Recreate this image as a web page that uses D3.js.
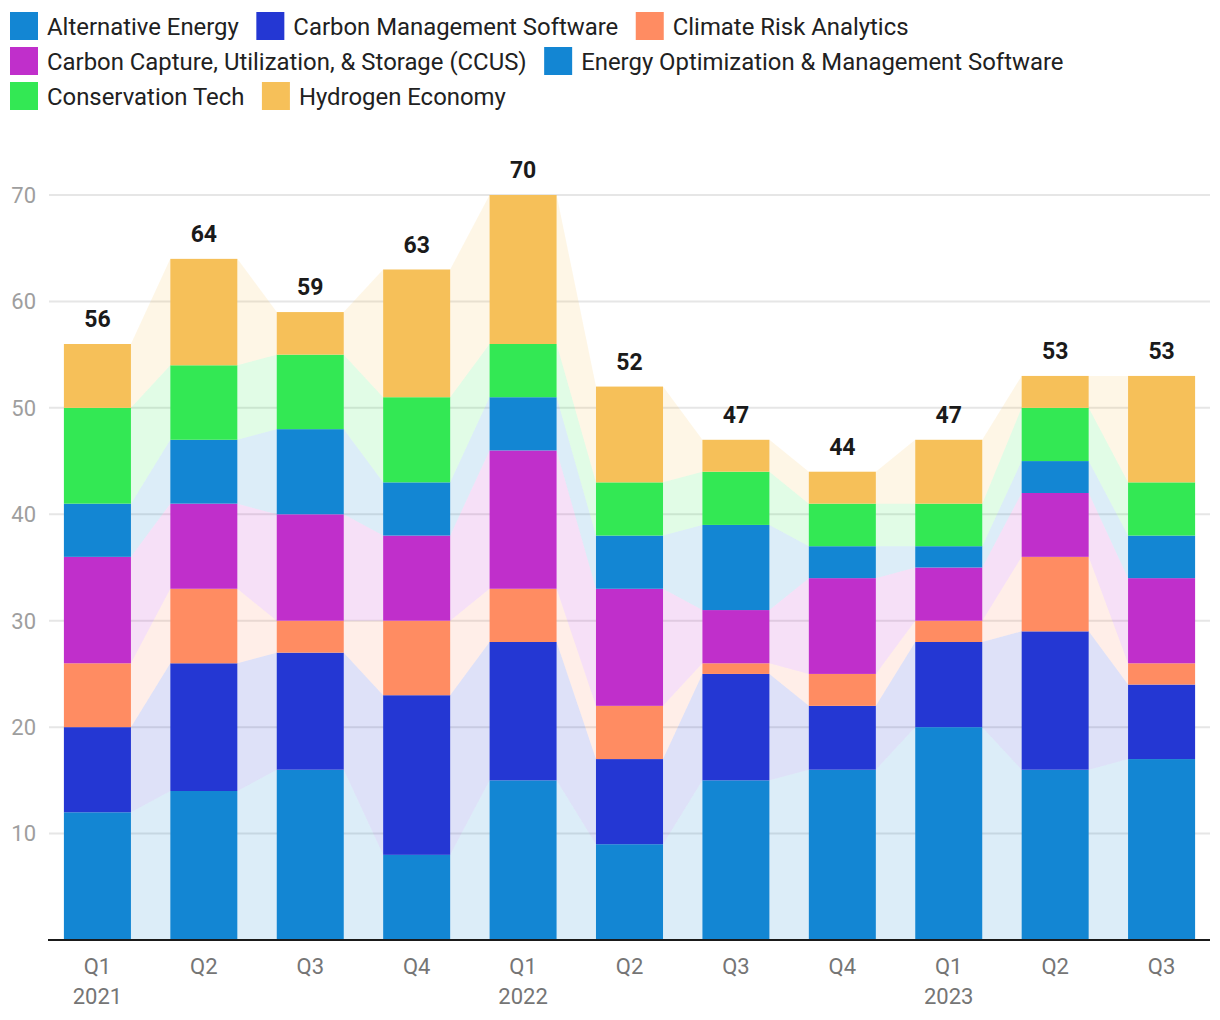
<!DOCTYPE html>
<html><head><meta charset="utf-8">
<script src="https://cdn.jsdelivr.net/npm/d3@7"></script>
<style>body{margin:0;background:#fff;} svg{display:block;font-family:Roboto,"Noto Sans",sans-serif;}</style>
</head><body><svg id="c" width="1220" height="1020"></svg>
<script>
const quarters = ["Q1","Q2","Q3","Q4","Q1","Q2","Q3","Q4","Q1","Q2","Q3"];
const years = ["2021","","","","2022","","","","2023","",""];
const seriesNames = ["Alternative Energy","Carbon Management Software","Climate Risk Analytics","Carbon Capture, Utilization, & Storage (CCUS)","Energy Optimization & Management Software","Conservation Tech","Hydrogen Economy"];
const seriesColors = ["#1386d3","#2437d3","#ff8c62","#c02fcb","#1386d3","#33e854","#f6c059"];
const alternativeEnergy = [12,14,16,8,15,9,15,16,20,16,17];
const carbonManagement = [8,12,11,15,13,8,10,6,8,13,7];
const climateRisk = [6,7,3,7,5,5,1,3,2,7,2];
const ccus = [10,8,10,8,13,11,5,9,5,6,8];
const energyOptimization = [5,6,8,5,5,5,8,3,2,3,4];
const conservationTech = [9,7,7,8,5,5,5,4,4,5,5];
const hydrogenEconomy = [6,10,4,12,14,9,3,3,6,3,10];
const yTicks = [10,20,30,40,50,60,70];

const seriesValues = [alternativeEnergy,carbonManagement,climateRisk,ccus,energyOptimization,conservationTech,hydrogenEconomy];
const rows = quarters.map((q,i)=>{const r={idx:i}; seriesNames.forEach((s,k)=>r[s]=seriesValues[k][i]); return r;});
const stack = d3.stack().keys(seriesNames)(rows);
const totals = rows.map((r,i)=>d3.sum(seriesValues,v=>v[i]));

const svg = d3.select("#c");
const x = d3.scaleBand().domain(d3.range(quarters.length)).range([49,1210]).paddingInner(0.37).paddingOuter(0.14);
const y = d3.scaleLinear().domain([0,70]).range([940,195]);
const bw = x.bandwidth();

// gridlines
svg.append("g").selectAll("line").data(yTicks).join("line")
  .attr("x1",49).attr("x2",1210).attr("y1",d=>y(d)).attr("y2",d=>y(d))
  .attr("stroke","#e6e6e6").attr("stroke-width",2);
svg.append("g").selectAll("text").data(yTicks).join("text")
  .attr("x",36).attr("y",d=>y(d)).attr("dy","0.36em").attr("text-anchor","end")
  .attr("fill","#9e9e9e").attr("font-size",22).text(d=>d);

// connecting areas
const areaG = svg.append("g");
stack.forEach((layer,k)=>{
  for(let i=0;i<layer.length-1;i++){
    const a=layer[i], b=layer[i+1];
    const x0=x(i)+bw, x1=x(i+1);
    areaG.append("path")
      .attr("d",`M${x0},${y(a[1])}L${x1},${y(b[1])}L${x1},${y(b[0])}L${x0},${y(a[0])}Z`)
      .attr("fill",seriesColors[k]).attr("fill-opacity",0.15);
  }
});

// bars
stack.forEach((layer,k)=>{
  svg.append("g").selectAll("rect").data(layer).join("rect")
    .attr("x",(d,i)=>x(i)).attr("width",bw)
    .attr("y",d=>y(d[1])).attr("height",d=>y(d[0])-y(d[1]))
    .attr("fill",seriesColors[k]);
});

// totals
svg.append("g").selectAll("text").data(totals).join("text")
  .attr("x",(d,i)=>x(i)+bw/2).attr("y",d=>y(d)-17).attr("text-anchor","middle")
  .attr("font-weight","bold").attr("font-size",23).attr("fill","#1a1a1a").text(d=>d);

// baseline
svg.append("line").attr("x1",48).attr("x2",1210).attr("y1",940).attr("y2",940).attr("stroke","#1a1a1a").attr("stroke-width",2);

// x labels
const xl = svg.append("g");
quarters.forEach((q,i)=>{
  xl.append("text").attr("x",x(i)+bw/2).attr("y",974).attr("text-anchor","middle").attr("fill","#757575").attr("font-size",22).text(q);
  if(years[i]) xl.append("text").attr("x",x(i)+bw/2).attr("y",1004).attr("text-anchor","middle").attr("fill","#757575").attr("font-size",22).text(years[i]);
});

// legend
const lg = svg.append("g");
let lx=10, ly=12;
seriesNames.forEach((s,k)=>{
  const g = lg.append("g");
  const t = g.append("text").attr("font-size",23.9).attr("fill","#212121").text(s);
  const w = t.node().getComputedTextLength();
  if(lx+37+w>1215){lx=10; ly+=35;}
  g.append("rect").attr("x",lx).attr("y",ly).attr("width",28).attr("height",28).attr("fill",seriesColors[k]);
  t.attr("x",lx+37).attr("y",ly+22.5);
  lx += 37+w+17.5;
});
</script></body></html>
